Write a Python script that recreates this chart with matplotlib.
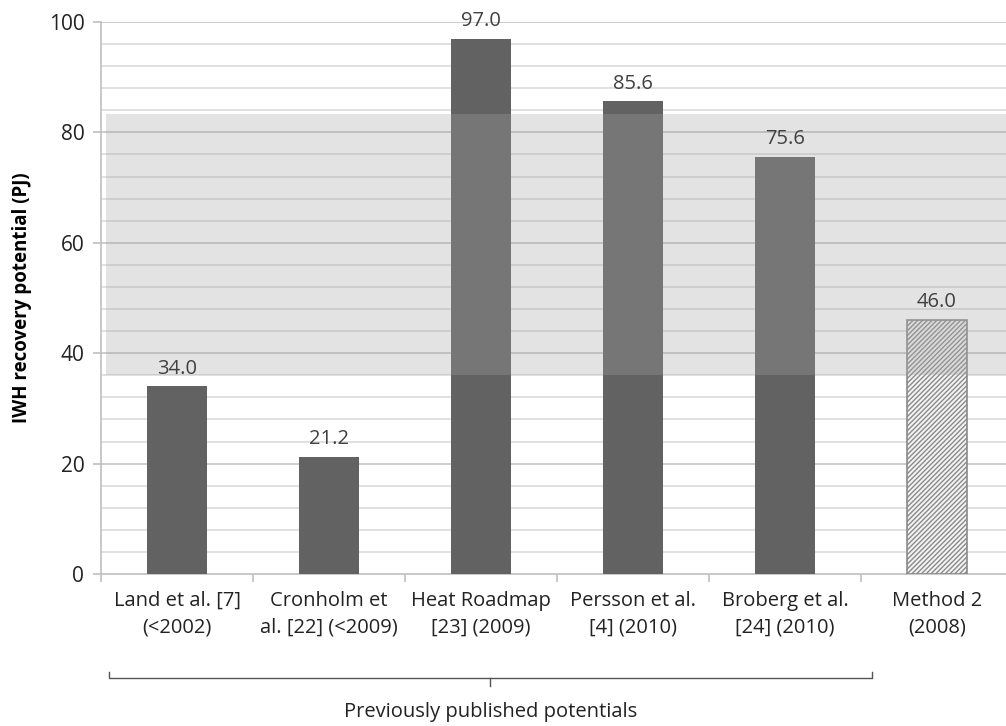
import matplotlib
matplotlib.use("Agg")
import matplotlib.pyplot as plt
import matplotlib.transforms as mtransforms

# values
categories = ["Land et al. [7]\n(<2002)", "Cronholm et\nal. [22] (<2009)",
              "Heat Roadmap\n[23] (2009)", "Persson et al.\n[4] (2010)",
              "Broberg et al.\n[24] (2010)", "Method 2\n(2008)"]
totals = [34.0, 21.2, 97.0, 85.6, 75.6, 46.0]
band_low = 36.0
band_high = 83.3
group_label = "Previously published potentials"

plt.rcParams['font.family'] = ['Liberation Sans Narrow', 'Open Sans', 'DejaVu Sans']

fig = plt.figure(figsize=(10.06, 7.26), dpi=100)
ax = fig.add_axes([0.1004, 0.2094, 0.9066, 0.7603])

n = len(categories)
centers = [i + 0.5 for i in range(n)]

# published studies: solid dark bars
ax.bar(centers[:-1], totals[:-1], width=0.4, color="#626262", zorder=3)
# method 2: hatched bar
plt.rcParams['hatch.color'] = "#8a8a8a"
plt.rcParams['hatch.linewidth'] = 1.0
ax.bar(centers[-1], totals[-1], width=0.4, facecolor="#f4f4f4",
       edgecolor="#8a8a8a", hatch="///////", linewidth=1.2, zorder=3)

# shaded range laid over everything
ax.axhspan(band_low, band_high, xmin=0.006, xmax=1, color="#a5a5a5",
           alpha=0.31, zorder=4, linewidth=0)

for x, v in zip(centers, totals):
    ax.text(x, v + 1.4, "%.1f" % v, ha="center", va="bottom", fontsize=14.5,
            color="#404040", family=['Open Sans', 'DejaVu Sans'], zorder=5)

ax.set_xlim(0, n)
ax.set_ylim(0, 100)

# gridlines every 4, labels every 20
for y in range(4, 101, 4):
    c = "#c4c4c4" if y % 20 == 0 else "#dcdcdc"
    ax.axhline(y, color=c, linewidth=1.2, zorder=1)

ax.set_yticks(range(0, 101, 20))
ax.set_yticklabels([str(v) for v in range(0, 101, 20)], fontsize=15,
                   family=['Open Sans', 'DejaVu Sans'], color="#222222")
ax.tick_params(axis="y", length=6, color="#bfbfbf", width=1.2, pad=6)

ax.set_xticks(range(0, n + 1))
ax.set_xticklabels([])
ax.tick_params(axis="x", which="major", length=6, color="#bfbfbf", width=1.2)
ax.set_xticks(centers, minor=True)
ax.set_xticklabels(categories, minor=True, fontsize=14.5, color="#222222",
                   linespacing=1.45)
ax.tick_params(axis="x", which="minor", length=0, pad=12)

for s in ["top", "right"]:
    ax.spines[s].set_visible(False)
for s in ["left", "bottom"]:
    ax.spines[s].set_color("#bfbfbf")
    ax.spines[s].set_linewidth(1.2)

ax.set_ylabel("IWH recovery potential (PJ)", fontsize=13.5, fontweight="bold",
              family=['Open Sans', 'DejaVu Sans'], labelpad=12)

# bracket under the published studies
tr = mtransforms.blended_transform_factory(ax.transData, ax.transAxes)
yb = -0.1885
ax.plot([0.05, 0.05, 5.07, 5.07], [yb + 0.011, yb, yb, yb + 0.011],
        transform=tr, color="#555555", linewidth=1.0, clip_on=False)
ax.plot([2.56, 2.56], [yb, yb - 0.014], transform=tr, color="#555555",
        linewidth=1.0, clip_on=False)
fig.text(ax.transData.transform((2.56, 0))[0] / fig.bbox.width, 0.019,
         group_label, ha="center", va="center", fontsize=14.5, color="#222222")

fig.savefig("out.png", dpi=100)
